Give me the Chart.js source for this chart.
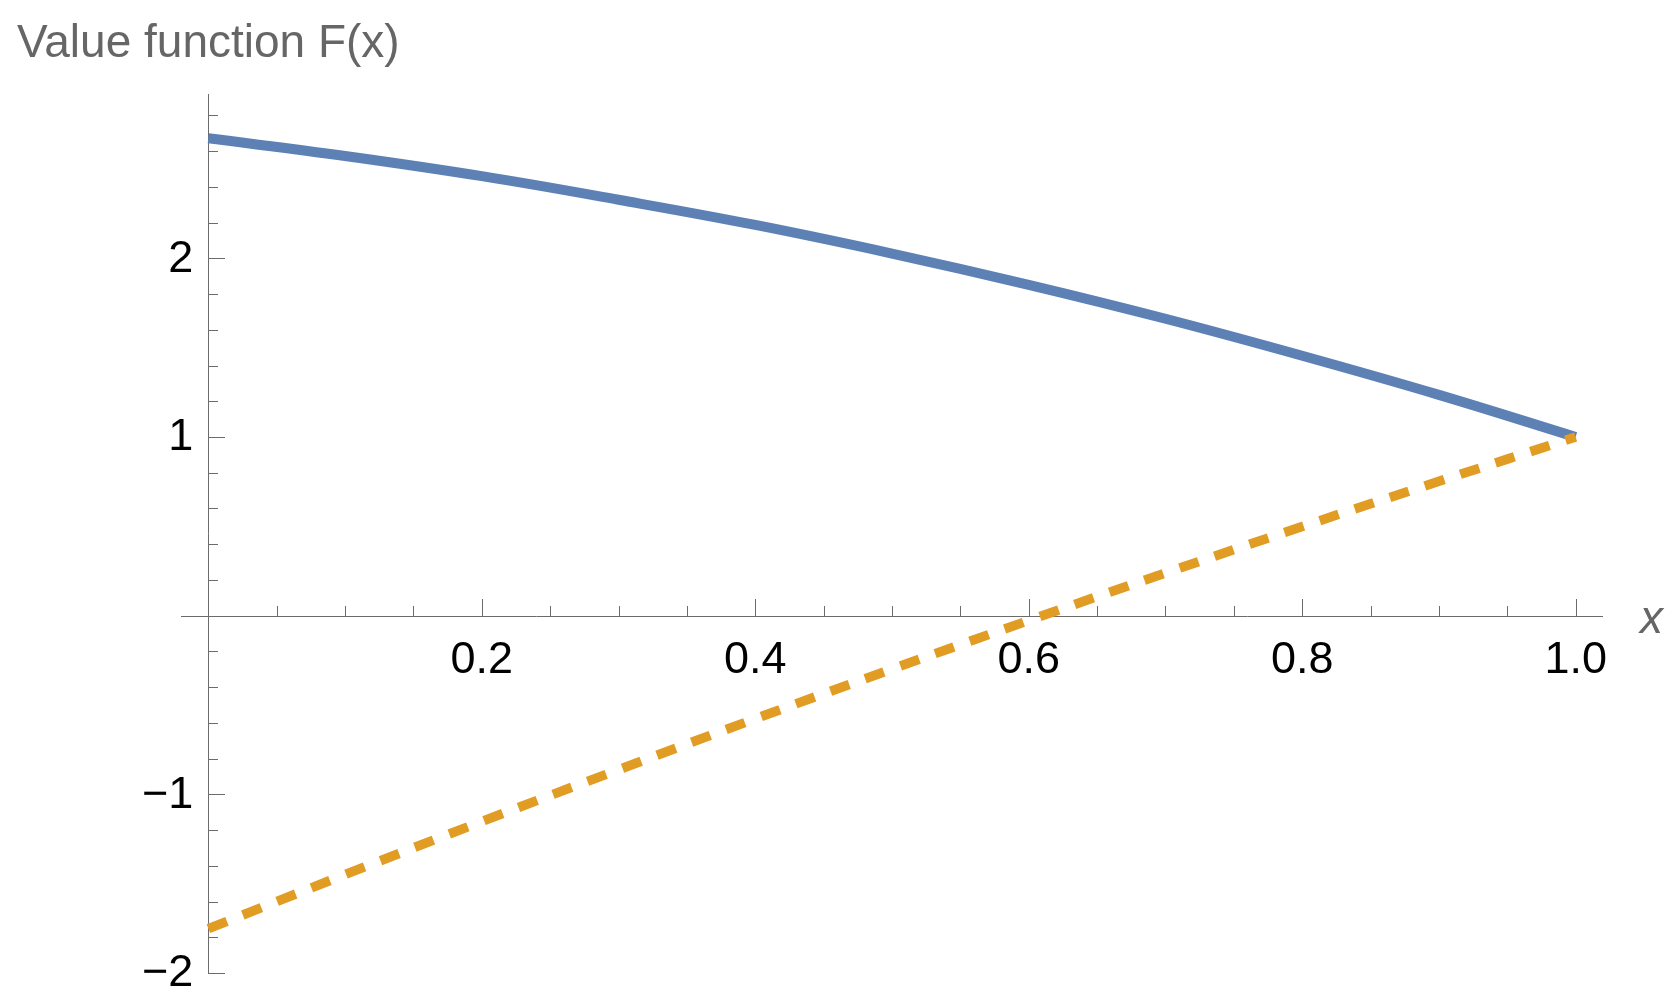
<!DOCTYPE html>
<html>
<head>
<meta charset="utf-8">
<script src="https://cdn.jsdelivr.net/npm/chart.js@4/dist/chart.umd.min.js"></script>
<style>
html,body{margin:0;padding:0;background:#ffffff;}
#wrap{width:1679px;height:1006px;position:relative;}
</style>
</head>
<body>
<div id="wrap"><canvas id="c"></canvas></div>
<script>
// ---- data ----
const xValues       = [0, 0.1, 0.2, 0.3, 0.4, 0.5, 0.6, 0.7, 0.8, 0.9, 1.0];
const valueFunction = [2.672, 2.573, 2.460, 2.328, 2.187, 2.027, 1.852, 1.662, 1.455, 1.236, 1.000];
const payoff        = [-1.752, -1.449, -1.152, -0.862, -0.577, -0.299, -0.027, 0.239, 0.499, 0.752, 1.000];

const xMajorTicks  = [0.2, 0.4, 0.6, 0.8, 1.0];
const xTickLabels  = ['0.2', '0.4', '0.6', '0.8', '1.0'];
const yMajorTicks  = [-2, -1, 1, 2];
const yTickLabels  = ['\u22122', '\u22121', '1', '2'];
const xMinorStep   = 0.05;
const yMinorStep   = 0.2;

const titleText = 'Value function F(x)';
const xAxisText = 'x';

const FONT = '"Liberation Sans", Arial, sans-serif';
const AXIS_COLOR = '#6b6b6b';

const axesPlugin = {
  id: 'mmaAxes',
  beforeDatasetsDraw(chart) {
    const ctx = chart.ctx;
    const xs = chart.scales.x, ys = chart.scales.y;
    const x0 = xs.getPixelForValue(0);
    const y0 = ys.getPixelForValue(0);
    ctx.save();
    ctx.strokeStyle = AXIS_COLOR;
    ctx.lineWidth = 1;
    // axis lines
    ctx.beginPath();
    ctx.moveTo(xs.left, Math.round(y0) + 0.5);
    ctx.lineTo(xs.right, Math.round(y0) + 0.5);
    ctx.moveTo(Math.round(x0) + 0.5, ys.top);
    ctx.lineTo(Math.round(x0) + 0.5, ys.bottom);
    ctx.stroke();
    // x ticks (inward, upward)
    ctx.beginPath();
    for (let i = 1; i * xMinorStep <= xs.max + 1e-9; i++) {
      const v = +(i * xMinorStep).toFixed(4);
      const isMajor = xMajorTicks.some(m => Math.abs(m - v) < 1e-6);
      const px = Math.round(xs.getPixelForValue(v)) + 0.5;
      const len = isMajor ? 17 : 10;
      ctx.moveTo(px, Math.round(y0));
      ctx.lineTo(px, Math.round(y0) - len);
    }
    // y ticks (inward, rightward)
    for (let i = Math.ceil(ys.min / yMinorStep - 1e-9); i * yMinorStep <= ys.max + 1e-9; i++) {
      const v = +(i * yMinorStep).toFixed(4);
      if (Math.abs(v) < 1e-9) continue;
      const isMajor = yMajorTicks.some(m => Math.abs(m - v) < 1e-6);
      const py = Math.round(ys.getPixelForValue(v)) + 0.5;
      const len = isMajor ? 17 : 10;
      ctx.moveTo(Math.round(x0), py);
      ctx.lineTo(Math.round(x0) + len, py);
    }
    ctx.stroke();

    // tick labels
    ctx.fillStyle = '#000000';
    ctx.font = '45px ' + FONT;
    ctx.textAlign = 'center';
    ctx.textBaseline = 'alphabetic';
    xMajorTicks.forEach((v, i) => {
      ctx.fillText(xTickLabels[i], xs.getPixelForValue(v), y0 + 57);
    });
    ctx.textAlign = 'right';
    ctx.textBaseline = 'middle';
    yMajorTicks.forEach((v, i) => {
      ctx.fillText(yTickLabels[i], x0 - 15, ys.getPixelForValue(v) + 1);
    });

    // axis label x
    ctx.fillStyle = '#666666';
    ctx.font = 'italic 46px ' + FONT;
    ctx.textAlign = 'left';
    ctx.textBaseline = 'alphabetic';
    ctx.fillText(xAxisText, xs.right + 37, y0 + 17);

    // title (y axis label)
    ctx.font = '46px ' + FONT;
    ctx.fillText(titleText, 17, 57);
    ctx.restore();
  }
};

new Chart(document.getElementById('c'), {
  type: 'line',
  data: {
    datasets: [
      {
        label: 'payoff',
        data: xValues.map((x, i) => ({x: x, y: payoff[i]})),
        borderColor: '#E19C24',
        borderWidth: 9.5,
        borderDash: [20, 17],
        borderCapStyle: 'butt',
        pointRadius: 0,
        fill: false,
        tension: 0.4,
        order: 0
      },
      {
        label: 'F(x)',
        data: xValues.map((x, i) => ({x: x, y: valueFunction[i]})),
        borderColor: '#5E81B5',
        borderWidth: 10,
        borderCapStyle: 'butt',
        pointRadius: 0,
        fill: false,
        tension: 0.4,
        order: 1
      }
    ]
  },
  options: {
    responsive: true,
    maintainAspectRatio: false,
    animation: false,
    devicePixelRatio: 1,
    layout: { padding: { left: 181, right: 76, top: 94, bottom: 33 } },
    plugins: { legend: { display: false }, tooltip: { enabled: false }, title: { display: false } },
    scales: {
      x: { type: 'linear', min: -0.02, max: 1.02, display: false },
      y: { type: 'linear', min: -2, max: 2.92, display: false }
    }
  },
  plugins: [axesPlugin]
});
</script>
</body>
</html>
